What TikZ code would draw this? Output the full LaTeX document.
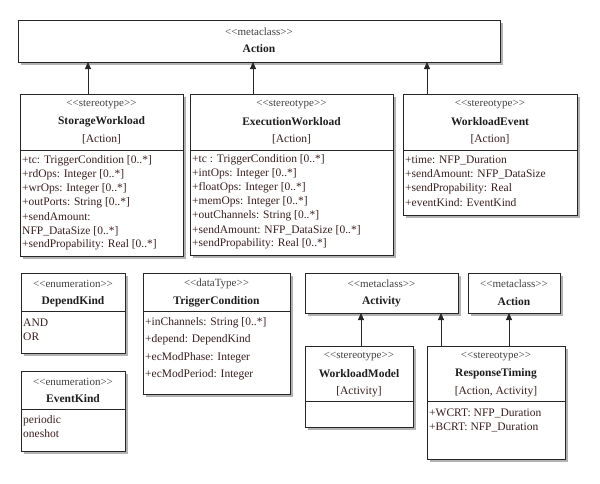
\documentclass[tikz,border=0pt]{standalone}
\usepackage{fontspec}
\setmainfont{Liberation Serif}[Ligatures=TeXOff]
\usepackage{xcolor}
\usetikzlibrary{arrows.meta,shadows}
\definecolor{umlline}{HTML}{262626}
\definecolor{umltext}{HTML}{1E1E1E}
\definecolor{attrtext}{HTML}{3A1E1E}
\tikzset{
  clsbox/.style={draw=umlline,fill=white,line width=0.9pt,inner sep=0pt,outer sep=0pt,anchor=north west,
    drop shadow={shadow xshift=2.5pt,shadow yshift=-2.5pt,fill=gray!60,opacity=1}},
  clsstereo/.style={font=\fontsize{11}{13}\selectfont,text=umltext!85,inner sep=1pt},
  clsname/.style={font=\fontsize{11.5}{13}\selectfont\bfseries,text=umltext,inner sep=1pt},
  clsbase/.style={font=\fontsize{11.5}{13}\selectfont,text=attrtext,inner sep=1pt},
  clsattr/.style={font=\fontsize{11.5}{13}\selectfont,text=attrtext,anchor=west,inner sep=0pt},
  clssep/.style={line width=0.8pt,draw=umlline},
  genarr/.style={-{Triangle[length=7pt,width=6pt]},line width=0.8pt,draw=umlline}
}

\begin{document}
\begin{tikzpicture}[x=1pt,y=-1pt]
  \useasboundingbox (0,0) rectangle (600,483);

  % metaclass Action on top
  \node[clsbox,minimum width=482pt,minimum height=42pt] (action) at (18,20) {};
  \node[clsstereo] (actionS) at (259,32) {<<metaclass>>};
  \node[clsname] (actionN) at (259,49) {Action};

  % stereotypes extending Action
  \node[clsbox,minimum width=163pt,minimum height=162pt] (storage) at (20,94) {};
  \node[clsstereo] (storageS) at (101.5,105) {<<stereotype>>};
  \node[clsname] (storageN) at (101.5,122) {StorageWorkload};
  \node[clsbase] (storageB) at (101.5,139) {[Action]};
  \draw[clssep] ([yshift=-56pt]storage.north west) -- ([yshift=-56pt]storage.north east);
  \foreach \y/\t in {161/{+tc: TriggerCondition [0..*]},175/{+rdOps: Integer [0..*]},
       189/{+wrOps: Integer [0..*]},203/{+outPorts: String [0..*]},217/{+sendAmount:},
       231/{NFP\_DataSize [0..*]},245/{+sendPropability: Real [0..*]}}
    \node[clsattr] (sw\y) at (22,\y) {\t};

  \node[clsbox,minimum width=203pt,minimum height=161pt] (exec) at (190,94) {};
  \node[clsstereo] (execS) at (291.5,105) {<<stereotype>>};
  \node[clsname] (execN) at (291.5,122) {ExecutionWorkload};
  \node[clsbase] (execB) at (291.5,139) {[Action]};
  \draw[clssep] ([yshift=-56pt]exec.north west) -- ([yshift=-56pt]exec.north east);
  \foreach \y/\t in {160/{+tc : TriggerCondition [0..*]},174/{+intOps: Integer [0..*]},
       188/{+floatOps: Integer [0..*]},202/{+memOps: Integer [0..*]},
       216/{+outChannels: String [0..*]},230/{+sendAmount: NFP\_DataSize [0..*]},
       244/{+sendPropability: Real [0..*]}}
    \node[clsattr] (ew\y) at (192,\y) {\t};

  \node[clsbox,minimum width=174pt,minimum height=121pt] (event) at (403,94) {};
  \node[clsstereo] (eventS) at (490,105) {<<stereotype>>};
  \node[clsname] (eventN) at (490,122) {WorkloadEvent};
  \node[clsbase] (eventB) at (490,139) {[Action]};
  \draw[clssep] ([yshift=-56pt]event.north west) -- ([yshift=-56pt]event.north east);
  \foreach \y/\t in {160/{+time: NFP\_Duration},174/{+sendAmount: NFP\_DataSize},
       189/{+sendPropability: Real},203/{+eventKind: EventKind}}
    \node[clsattr] (we\y) at (405,\y) {\t};

  \coordinate (g1) at (88,0);
  \coordinate (g2) at (253,0);
  \coordinate (g3) at (427,0);
  \draw[genarr] (storage.north -| g1) -- (action.south -| g1);
  \draw[genarr] (exec.north -| g2) -- (action.south -| g2);
  \draw[genarr] (event.north -| g3) -- (action.south -| g3);

  % enumerations and data type
  \node[clsbox,minimum width=104pt,minimum height=80pt] (depend) at (21,273) {};
  \node[clsstereo] (dependS) at (73,284) {<<enumeration>>};
  \node[clsname] (dependN) at (73,302) {DependKind};
  \draw[clssep] ([yshift=-38pt]depend.north west) -- ([yshift=-38pt]depend.north east);
  \node[clsattr] (dependAnd) at (23,323) {AND};
  \node[clsattr] (dependOr) at (23,337) {OR};

  \node[clsbox,minimum width=104pt,minimum height=80pt] (evkind) at (21,371) {};
  \node[clsstereo] (evkindS) at (73,382) {<<enumeration>>};
  \node[clsname] (evkindN) at (73,399) {EventKind};
  \draw[clssep] ([yshift=-38pt]evkind.north west) -- ([yshift=-38pt]evkind.north east);
  \node[clsattr] (evkindP) at (23,421) {periodic};
  \node[clsattr] (evkindO) at (23,434) {oneshot};

  \node[clsbox,minimum width=147pt,minimum height=121pt] (trigger) at (143,273) {};
  \node[clsstereo] (triggerS) at (216.5,284) {<<dataType>>};
  \node[clsname] (triggerN) at (216.5,302) {TriggerCondition};
  \draw[clssep] ([yshift=-38pt]trigger.north west) -- ([yshift=-38pt]trigger.north east);
  \foreach \y/\t in {323/{+inChannels: String [0..*]},340/{+depend: DependKind},
       358/{+ecModPhase: Integer},375/{+ecModPeriod: Integer}}
    \node[clsattr] (tc\y) at (145,\y) {\t};

  % activity side
  \node[clsbox,minimum width=153pt,minimum height=40pt] (activity) at (305,273) {};
  \node[clsstereo] (activityS) at (381.5,284) {<<metaclass>>};
  \node[clsname] (activityN) at (381.5,302) {Activity};

  \node[clsbox,minimum width=92pt,minimum height=40pt] (action2) at (468,273) {};
  \node[clsstereo] (action2S) at (514,284) {<<metaclass>>};
  \node[clsname] (action2N) at (514,302) {Action};

  \node[clsbox,minimum width=108pt,minimum height=81pt] (wmodel) at (305,346) {};
  \node[clsstereo] (wmodelS) at (359,357) {<<stereotype>>};
  \node[clsname] (wmodelN) at (359,374) {WorkloadModel};
  \node[clsbase] (wmodelB) at (359,392) {[Activity]};
  \draw[clssep] ([yshift=-55pt]wmodel.north west) -- ([yshift=-55pt]wmodel.north east);

  \node[clsbox,minimum width=138pt,minimum height=113pt] (resp) at (427,346) {};
  \node[clsstereo] (respS) at (496,357) {<<stereotype>>};
  \node[clsname] (respN) at (496,374) {ResponseTiming};
  \node[clsbase] (respB) at (496,392) {[Action, Activity]};
  \draw[clssep] ([yshift=-55pt]resp.north west) -- ([yshift=-55pt]resp.north east);
  \node[clsattr] (respW) at (429,413) {+WCRT: NFP\_Duration};
  \node[clsattr] (respB2) at (429,427) {+BCRT: NFP\_Duration};

  \coordinate (g4) at (361,0);
  \coordinate (g5) at (441,0);
  \coordinate (g6) at (509,0);
  \draw[genarr] (wmodel.north -| g4) -- (activity.south -| g4);
  \draw[genarr] (resp.north -| g5) -- (activity.south -| g5);
  \draw[genarr] (resp.north -| g6) -- (action2.south -| g6);
\end{tikzpicture}
\end{document}
